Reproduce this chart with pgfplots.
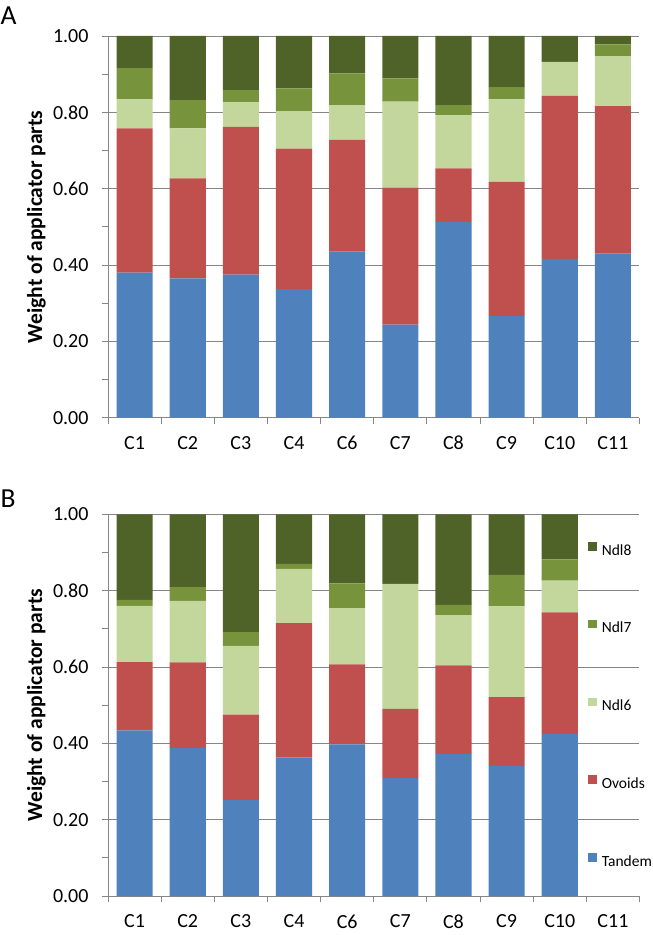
\documentclass[border=0pt]{standalone}
\usepackage{fontspec}
\setmainfont{Carlito}
\usepackage{pgfplots}
\pgfplotsset{compat=1.18}
\definecolor{cT}{HTML}{4F81BD}
\definecolor{cO}{HTML}{C0504D}
\definecolor{cSix}{HTML}{C3D69B}
\definecolor{cSeven}{HTML}{77933C}
\definecolor{cEight}{HTML}{4F6228}
\definecolor{cgrid}{HTML}{868686}
\pgfplotsset{
  myax/.style={
    scale only axis, width=531.5pt, height=381.7pt,
    anchor=south west,
    ybar stacked, bar width=36.1pt,
    xmin=-0.5, xmax=9.5, ymin=0, ymax=1,
    axis x line*=bottom, axis y line*=left,
    axis line style={draw=cgrid, line width=0.9pt},
    ymajorgrids, grid style={draw=cgrid, line width=0.9pt},
    tick align=outside,
    major tick length=6pt, minor tick length=6pt,
    tick style={draw=cgrid, line width=0.9pt},
    xtick={-0.5,0.5,1.5,2.5,3.5,4.5,5.5,6.5,7.5,8.5,9.5},
    xticklabels={,,,,,,,,,,},
    extra x ticks={0,1,2,3,4,5,6,7,8,9},
    extra x tick labels={C1,C2,C3,C4,C6,C7,C8,C9,C10,C11},
    extra x tick style={major tick length=0pt},
    xticklabel style={yshift=-15pt},
    ytick={0,0.2,0.4,0.6,0.8,1.0}, minor y tick num=1,
    yticklabel style={xshift=-10pt, /pgf/number format/.cd, fixed, fixed zerofill, precision=2, assume math mode=true},
    tick label style={font=\fontsize{20}{24}\selectfont},
    ylabel={Weight of applicator parts},
    ylabel style={font=\bfseries\fontsize{21.5}{25}\selectfont, at={(axis description cs:-0.1345,0.5)}, anchor=center},
    every axis plot/.append style={draw=none},
  }
}
\pgfplotstableread{
x T O N6 N7 N8
0 0.380 0.378 0.076 0.082 0.084
1 0.365 0.262 0.131 0.074 0.168
2 0.375 0.387 0.064 0.032 0.142
3 0.337 0.368 0.098 0.060 0.137
4 0.435 0.293 0.091 0.083 0.098
5 0.244 0.359 0.225 0.061 0.111
6 0.513 0.140 0.139 0.027 0.181
7 0.267 0.351 0.216 0.032 0.134
8 0.416 0.427 0.089 0.000 0.068
9 0.430 0.386 0.131 0.031 0.022
}\dataA
\pgfplotstableread{
x T O N6 N7 N8
0 0.434 0.179 0.147 0.016 0.224
1 0.388 0.224 0.161 0.036 0.191
2 0.251 0.224 0.180 0.036 0.309
3 0.363 0.352 0.142 0.013 0.130
4 0.397 0.210 0.147 0.065 0.181
5 0.309 0.181 0.328 0.000 0.182
6 0.372 0.232 0.132 0.027 0.237
7 0.340 0.181 0.238 0.082 0.159
8 0.424 0.319 0.083 0.056 0.118
}\dataB
\begin{document}
\begin{tikzpicture}
\path[use as bounding box] (0,0) rectangle (653pt,935pt);
\node[anchor=base west, inner sep=0pt, font=\fontsize{27.5}{30}\selectfont] at (0.5pt,910pt) {A};
\node[anchor=base west, inner sep=0pt, font=\fontsize{27.5}{30}\selectfont] at (0.5pt,427.5pt) {B};
\begin{axis}[myax, at={(108pt,517.3pt)}]
\addplot[fill=cT] table[x=x,y=T] {\dataA};
\addplot[fill=cO] table[x=x,y=O] {\dataA};
\addplot[fill=cSix] table[x=x,y=N6] {\dataA};
\addplot[fill=cSeven] table[x=x,y=N7] {\dataA};
\addplot[fill=cEight] table[x=x,y=N8] {\dataA};
\end{axis}
\begin{axis}[myax, at={(108pt,39pt)},
  reverse legend,
  legend cell align=left,
  legend image code/.code={\fill[#1] (0pt,0pt) rectangle (8.5pt,8.5pt);},
  legend style={at={(0.9037,0.9274)}, anchor=north west, draw=none, fill=none,
    inner sep=0pt, outer sep=0pt, row sep=60.75pt, column sep=5pt,
    font=\fontsize{15.5}{19}\selectfont,
    nodes={inner sep=0pt, text height=13pt, text depth=4pt}}]
\addplot[fill=cT] table[x=x,y=T] {\dataB};
\addlegendentry{Tandem}
\addplot[fill=cO] table[x=x,y=O] {\dataB};
\addlegendentry{Ovoids}
\addplot[fill=cSix] table[x=x,y=N6] {\dataB};
\addlegendentry{Ndl6}
\addplot[fill=cSeven] table[x=x,y=N7] {\dataB};
\addlegendentry{Ndl7}
\addplot[fill=cEight] table[x=x,y=N8] {\dataB};
\addlegendentry{Ndl8}
\end{axis}
\end{tikzpicture}
\end{document}
